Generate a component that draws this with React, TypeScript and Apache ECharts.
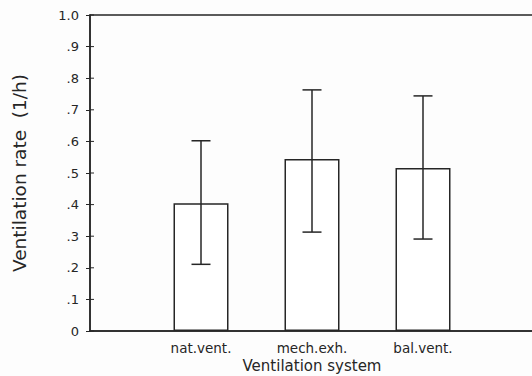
import React, { useEffect, useRef } from "react";
import * as echarts from "echarts";

const categories = ["nat.vent.", "mech.exh.", "bal.vent."];
const means = [0.404, 0.544, 0.516];
const lows = [0.211, 0.313, 0.291];
const highs = [0.602, 0.763, 0.744];
const yTicks = [0, 0.1, 0.2, 0.3, 0.4, 0.5, 0.6, 0.7, 0.8, 0.9, 1.0];
const yTickLabels = ["0", ".1", ".2", ".3", ".4", ".5", ".6", ".7", ".8", ".9", "1.0"];

const INK = "#262626";
const FONT = "DejaVu Sans";

export default function App() {
  const ref = useRef<HTMLDivElement>(null);
  useEffect(() => {
    if (!ref.current) return;
    const chart = echarts.init(ref.current, null, { renderer: "svg" });
    const barData = means.map((m, i) => [i + 1, m]);
    const errData = lows.map((l, i) => [i + 1, l, highs[i]]);
    const tickData = yTicks.map((t) => [0, t]);
    chart.setOption({
      animation: false,
      backgroundColor: "#fdfdfd",
      grid: {
        left: 90, top: 15, right: -2, bottom: 45,
        outerBoundsMode: "none",
        show: true, borderColor: INK, borderWidth: 1.5, backgroundColor: "transparent",
      },
      xAxis: {
        type: "value", min: 0, max: 4, interval: 1,
        splitLine: { show: false },
        axisLine: { show: true, lineStyle: { color: INK, width: 1.5 } },
        axisTick: { show: false },
        axisLabel: {
          color: INK, fontFamily: FONT, fontSize: 13.5, margin: 10,
          formatter: (v: number) => categories[v - 1] ?? "",
        },
        name: "Ventilation system",
        nameLocation: "middle",
        nameGap: 27,
        nameMoveOverlap: false,
        nameTextStyle: { color: INK, fontFamily: FONT, fontSize: 15 },
      },
      yAxis: {
        type: "value", min: 0, max: 1, interval: 0.1,
        splitLine: { show: false },
        axisLine: { show: true, lineStyle: { color: INK, width: 1.5 } },
        axisTick: { show: true, length: 4, lineStyle: { color: INK } },
        axisLabel: {
          color: INK, fontFamily: FONT, fontSize: 13, margin: 11,
          formatter: (v: number) => {
            const i = yTicks.findIndex((t) => Math.abs(t - v) < 1e-6);
            return i >= 0 ? yTickLabels[i] : "";
          },
        },
        name: "Ventilation rate  (1/h)",
        nameLocation: "middle",
        nameGap: 61,
        nameMoveOverlap: false,
        nameTextStyle: { color: INK, fontFamily: FONT, fontSize: 18.5 },
      },
      series: [
        {
          type: "bar",
          data: barData,
          barWidth: 55,
          itemStyle: { color: "#ffffff", borderColor: INK, borderWidth: 1.5 },
        },
        {
          type: "custom",
          data: errData,
          encode: { x: 0, y: [1, 2] },
          z: 5,
          renderItem: (params: any, api: any) => {
            const x = api.value(0);
            const lo = api.coord([x, api.value(1)]);
            const hi = api.coord([x, api.value(2)]);
            const hw = 9.5;
            const style = { stroke: INK, lineWidth: 1.5 };
            return {
              type: "group",
              children: [
                { type: "line", shape: { x1: lo[0], y1: lo[1], x2: hi[0], y2: hi[1] }, style },
                { type: "line", shape: { x1: lo[0] - hw, y1: lo[1], x2: lo[0] + hw, y2: lo[1] }, style },
                { type: "line", shape: { x1: hi[0] - hw, y1: hi[1], x2: hi[0] + hw, y2: hi[1] }, style },
              ],
            };
          },
        },
        {
          type: "custom",
          data: tickData,
          encode: { x: 0, y: 1 },
          silent: true,
          renderItem: (params: any, api: any) => {
            const p = api.coord([api.value(0), api.value(1)]);
            return {
              type: "line",
              shape: { x1: p[0], y1: p[1], x2: p[0] + 4, y2: p[1] },
              style: { stroke: INK, lineWidth: 1 },
            };
          },
        },
      ],
    });
    return () => chart.dispose();
  }, []);
  return <div ref={ref} style={{ width: 532, height: 376, position: "absolute", left: 0, top: 0 }} />;
}
